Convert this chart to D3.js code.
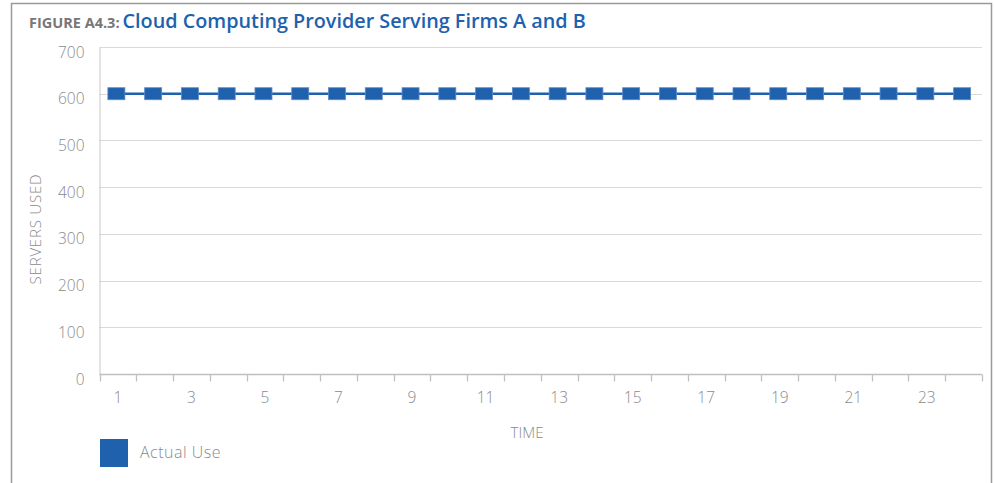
<!DOCTYPE html>
<html><head><meta charset="utf-8">
<script src="https://cdn.jsdelivr.net/npm/d3@7"></script>
<style>
body{margin:0;background:#fff;}
svg{display:block;font-family:"Open Sans",sans-serif;}
</style></head>
<body><svg id="c" width="994" height="483"></svg>
<script>
const times = d3.range(1, 25);
const actualUse = [600,600,600,600,600,600,600,600,600,600,600,600,600,600,600,600,600,600,600,600,600,600,600,600];
const yTicks = [0,100,200,300,400,500,600,700];
const xLabels = [1,3,5,7,9,11,13,15,17,19,21,23];

const svg = d3.select("#c");
const blue = "#2061ae";
const gray = "#8a8a8a";
// frame
svg.append("path").attr("d","M11.5,483 V3.5 H991.5 V483").attr("fill","none").attr("stroke","#9a9a9a").attr("stroke-width",1.5);

svg.append("text").attr("x",29).attr("y",28)
  .attr("font-size",14.5).attr("font-weight",700).attr("fill","#777").text("FIGURE A4.3:")
  .append("tspan").attr("dx",3).attr("font-size",19.8).attr("font-weight",600).attr("fill",blue)
  .text("Cloud Computing Provider Serving Firms A and B");

const L=99.5, R=982, T=47, B=374;
const x = d3.scaleBand().domain(times).range([L,R]);
const y = d3.scaleLinear().domain([0,700]).range([B,T]);

// gridlines
svg.append("g").selectAll("line").data(yTicks.filter(d=>d>0)).join("line")
  .attr("x1",L).attr("x2",R).attr("y1",d=>Math.round(y(d))+0.5).attr("y2",d=>Math.round(y(d))+0.5)
  .attr("stroke","#d9d9d9").attr("stroke-width",1.2);

// y axis
const ya = svg.append("g").attr("transform",`translate(${L},0)`)
  .call(d3.axisLeft(y).tickValues(yTicks).tickSize(0).tickPadding(15));
ya.select(".domain").attr("stroke","#c8c8c8");
ya.selectAll("text").attr("font-size",15.5).attr("font-weight",300).attr("fill",gray).attr("font-family","Open Sans").attr("dy","0.65em");

// x axis
const xa = svg.append("g").attr("transform",`translate(0,${B+0.5})`);
xa.append("line").attr("x1",L).attr("x2",R).attr("stroke","#c0c0c0").attr("stroke-width",1.3);
const tickPos = times.map(t=>x(t)).concat([R]);
xa.selectAll("line.t").data(tickPos).join("line").attr("class","t")
  .attr("x1",d=>Math.round(d)+0.5).attr("x2",d=>Math.round(d)+0.5).attr("y1",0).attr("y2",7)
  .attr("stroke","#c0c0c0").attr("stroke-width",1.3);
xa.selectAll("text").data(xLabels).join("text")
  .attr("x",d=>x(d)+x.bandwidth()/2).attr("y",28).attr("text-anchor","middle")
  .attr("font-size",15.5).attr("font-weight",300).attr("fill",gray).text(d=>d);

// axis titles
svg.append("text").attr("transform","translate(41,229) rotate(-90)").attr("text-anchor","middle")
  .attr("font-size",15).attr("font-weight",300).attr("fill",gray).attr("letter-spacing",0.8).text("SERVERS USED");
svg.append("text").attr("x",527).attr("y",438).attr("text-anchor","middle")
  .attr("font-size",15).attr("font-weight",300).attr("fill",gray).text("TIME");

// series
const cx = d=>x(d)+x.bandwidth()/2-1.5;
svg.append("path").datum(times.map((t,i)=>[t,actualUse[i]]))
  .attr("d",d3.line().x(d=>cx(d[0])).y(d=>y(d[1])))
  .attr("fill","none").attr("stroke",blue).attr("stroke-width",2.5);
svg.append("g").selectAll("rect").data(times.map((t,i)=>[t,actualUse[i]])).join("rect")
  .attr("x",d=>cx(d[0])-8.5).attr("y",d=>y(d[1])-6).attr("width",17).attr("height",12)
  .attr("fill",blue).attr("stroke","#5b8ac8").attr("stroke-width",0.8);

// legend
svg.append("rect").attr("x",100).attr("y",439).attr("width",28).attr("height",28).attr("fill",blue);
svg.append("text").attr("x",140).attr("y",458).attr("font-size",16).attr("font-weight",300).attr("fill",gray).attr("letter-spacing",0.5).text("Actual Use");
</script></body></html>
